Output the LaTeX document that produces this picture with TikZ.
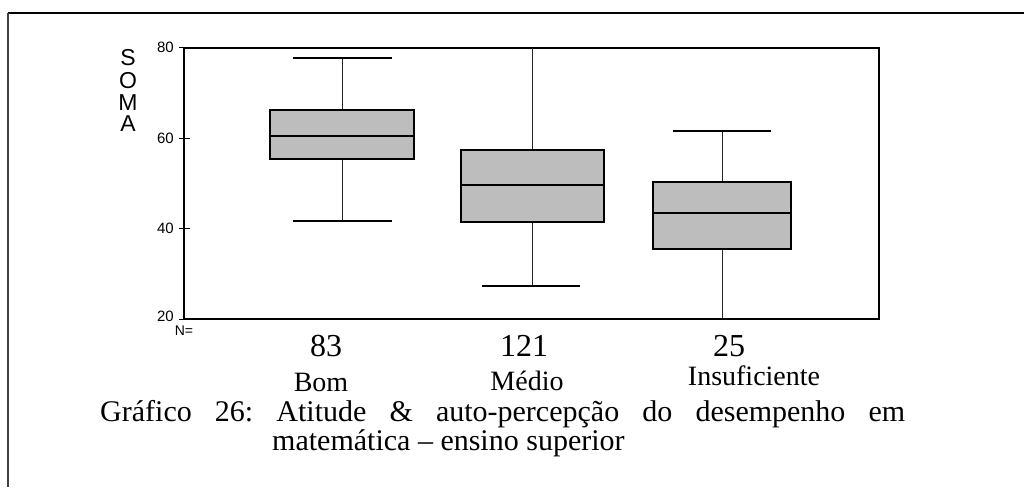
\documentclass[tikz,border=0pt]{standalone}
\usepackage{fontspec}
\setmainfont{Liberation Serif}
\newfontfamily\arialf{Liberation Sans}
\frenchspacing
\tikzset{
  boxfill/.style={draw=black, line width=1.4pt, fill=black!26},
  whisk/.style={line width=0.8pt, draw=black!85},
  capline/.style={line width=1.6pt},
  medline/.style={line width=2pt},
  axisline/.style={line width=1.1pt},
  tickline/.style={line width=1pt},
  ticklab/.style={font=\arialf\fontsize{15}{15}\selectfont, anchor=east, inner sep=0pt},
  axlab/.style={font=\arialf\fontsize{23}{23}\selectfont, anchor=base, inner sep=0pt},
  nlab/.style={font=\fontsize{32}{32}\selectfont, anchor=base, inner sep=0pt},
  catlab/.style={font=\fontsize{28}{28}\selectfont, anchor=base, inner sep=0pt},
  caplab/.style={font=\fontsize{30}{30}\selectfont, anchor=base west, inner sep=0pt},
}
\begin{document}
\begin{tikzpicture}[x=1pt,y=-1pt]
\useasboundingbox (0,0) rectangle (1024,487);
% outer frame
\draw[line width=2.5pt] (8,13) -- (1024,13);
\draw[line width=1.5pt, black!75] (8,13) -- (8,487);

% plot frame
\draw[axisline] (184,48) rectangle (879,319);
\draw[line width=1.6pt] (184,48) -- (879,48);
\draw[line width=1.6pt] (184,319) -- (879,319);

% ticks
\foreach \yy in {48,138,228,319} \draw[tickline] (179,\yy) -- (190,\yy);
\node[ticklab] (t80) at (174,47) {80};
\node[ticklab] (t60) at (174,138) {60};
\node[ticklab] (t40) at (174,228) {40};
\node[ticklab] (t20) at (174,316) {20};
\node[font=\arialf\fontsize{14}{14}\selectfont, inner sep=0pt] (neq) at (184,331) {N=};

% axis title
\node[axlab] (s1) at (128,66) {S};
\node[axlab] (s2) at (128,88) {O};
\node[axlab] (s3) at (128,110) {M};
\node[axlab] (s4) at (128,131) {A};

% box 1 (Bom)
\draw[whisk] (342,110) -- (342,58);
\draw[whisk] (342,159) -- (342,221);
\draw[capline] (293,58) -- (392,58);
\draw[capline] (293,221) -- (392,221);
\draw[boxfill] (270,110) rectangle (414,159);
\draw[medline] (270,136) -- (414,136);

% box 2 (Medio)
\draw[whisk] (532,150) -- (532,48);
\draw[whisk] (532,222) -- (532,286);
\draw[capline] (482,286) -- (580,286);
\draw[boxfill] (461,150) rectangle (604,222);
\draw[medline] (461,185) -- (604,185);

% box 3 (Insuficiente)
\draw[whisk] (722,182) -- (722,131);
\draw[whisk] (722,249) -- (722,319);
\draw[capline] (673,131) -- (771,131);
\draw[capline] (673,319) -- (771,319);
\draw[boxfill] (653,182) rectangle (791,249);
\draw[medline] (653,213) -- (791,213);

% N labels
\node[nlab] (n1) at (326,356) {83};
\node[nlab] (n2) at (524,356) {121};
\node[nlab] (n3) at (729,356) {25};

% category labels
\node[catlab] (c1) at (321,391) {Bom};
\node[catlab] (c2) at (527,390) {Médio};
\node[catlab] (c3) at (754,385) {Insuficiente};

% caption
\node[caplab] (cap1) at (100,421) {\makebox[805pt][s]{Gráfico 26: Atitude \& auto-percepção do desempenho em}};
\node[caplab] (cap2) at (272,450) {matemática – ensino superior};
\end{tikzpicture}
\end{document}
